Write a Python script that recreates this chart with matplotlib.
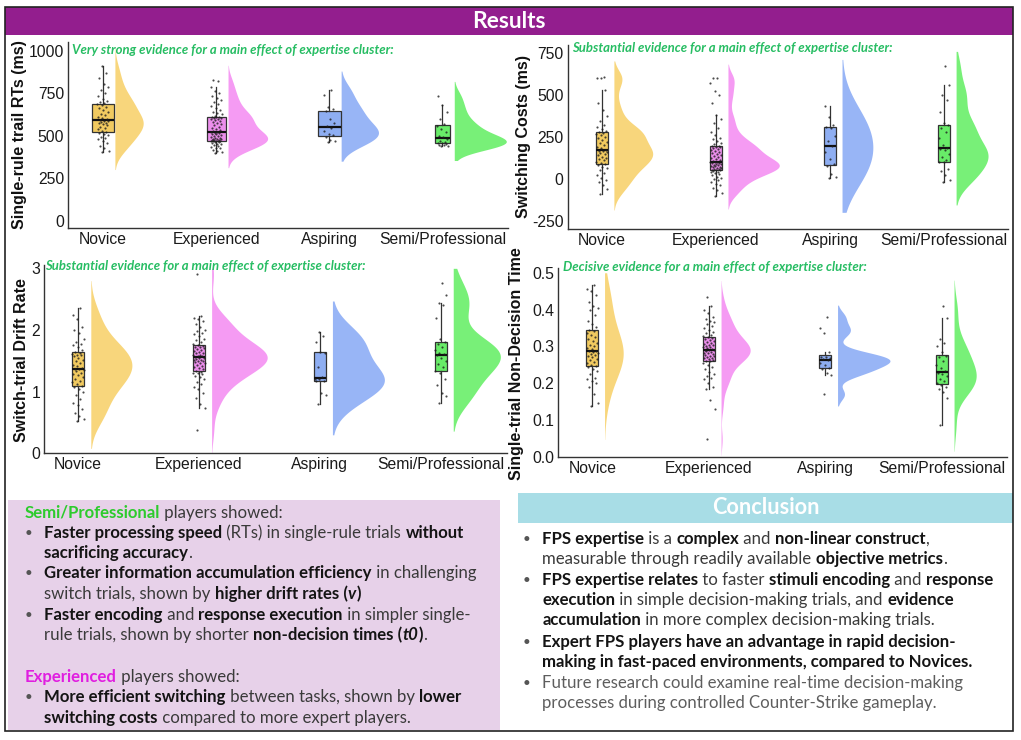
import numpy as np
import matplotlib
matplotlib.use("Agg")
import matplotlib.pyplot as plt
from matplotlib.font_manager import FontProperties
from matplotlib.patches import Rectangle

W, H, DPI = 1021, 740, 100

categories = ["Novice", "Experienced", "Aspiring", "Semi/Professional"]

# ---- Panel 1: single-rule trial RTs (ms)
rt_novice = [405, 412, 425, 440, 455, 468, 478, 486, 494, 502, 510, 518, 522, 530, 538, 546, 553, 560, 566, 572,
             577, 582, 586, 589, 592, 598, 605, 612, 620, 630, 640, 650, 660, 670, 680, 688, 692, 698, 705, 718,
             735, 752, 768, 785, 805, 840, 868, 910]
rt_experienced = [400, 405, 410, 418, 425, 430, 436, 441, 446, 450, 454, 458, 461, 464, 466, 468, 469, 470, 471, 472,
                  474, 476, 478, 480, 483, 486, 489, 492, 496, 500, 504, 508, 512, 515, 518, 520, 521, 526, 532, 538,
                  545, 552, 560, 567, 574, 580, 586, 591, 596, 600, 603, 606, 608, 610, 612, 618, 625, 633, 642, 652,
                  662, 672, 684, 696, 708, 720, 735, 750, 765, 785, 822, 826]
rt_aspiring = [460, 466, 472, 490, 502, 512, 530, 545, 555, 575, 600, 645, 655, 668, 740, 770]
rt_semipro = [438, 440, 443, 447, 452, 456, 458, 462, 470, 480, 490, 500, 520, 540, 558, 568, 600, 640, 680, 735]

# ---- Panel 2: switching costs (ms)
sc_novice = [-90, -60, -40, -20, -5, 5, 20, 35, 50, 62, 72, 82, 88, 95, 102, 110, 118, 125, 132, 140, 148, 155, 160,
             164, 166, 172, 180, 190, 200, 210, 220, 230, 240, 250, 260, 268, 274, 278, 285, 295, 305, 320, 345, 375,
             410, 450, 530, 598, 602, 605]
sc_experienced = [-100, -85, -70, -55, -40, -30, -20, -10, -2, 5, 12, 20, 26, 32, 38, 42, 46, 49, 51, 54, 57, 60, 63,
                  66, 69, 72, 75, 78, 81, 84, 87, 90, 93, 96, 98, 100, 101, 106, 111, 116, 121, 127, 133, 139, 145,
                  151, 157, 163, 169, 175, 181, 187, 191, 194, 197, 205, 215, 225, 235, 245, 260, 280, 300, 330, 355,
                  380, 450, 500, 525, 570, 598, 602]
sc_aspiring = [2, 12, 30, 75, 85, 120, 160, 195, 225, 255, 300, 310, 318, 370, 430]
sc_semipro = [-20, -10, 20, 45, 60, 98, 102, 110, 130, 150, 170, 178, 182, 200, 240, 280, 300, 320, 330, 400, 470,
              500, 555, 670]

# ---- Panel 3: switch-trial drift rate
drift_novice = [0.52, 0.55, 0.60, 0.65, 0.72, 0.78, 0.82, 0.88, 0.95, 1.00, 1.04, 1.07, 1.09, 1.12, 1.15, 1.18, 1.21,
                1.24, 1.27, 1.29, 1.31, 1.33, 1.35, 1.36, 1.37, 1.38, 1.41, 1.44, 1.47, 1.50, 1.52, 1.55, 1.57, 1.59,
                1.60, 1.61, 1.62, 1.64, 1.68, 1.72, 1.75, 1.78, 1.80, 1.85, 1.95, 2.00, 2.05, 2.18, 2.25, 2.36]
drift_experienced = [0.37, 0.73, 0.80, 0.90, 0.98, 1.05, 1.08, 1.12, 1.16, 1.20, 1.23, 1.26, 1.28, 1.30, 1.31, 1.32,
                     1.34, 1.36, 1.38, 1.40, 1.42, 1.44, 1.46, 1.47, 1.48, 1.49, 1.50, 1.51, 1.52, 1.53, 1.54, 1.55,
                     1.56, 1.57, 1.58, 1.59, 1.60, 1.62, 1.63, 1.65, 1.66, 1.68, 1.69, 1.70, 1.72, 1.73, 1.74, 1.75,
                     1.77, 1.80, 1.83, 1.86, 1.90, 1.93, 1.95, 1.98, 2.00, 2.05, 2.10, 2.14, 2.18, 2.20, 2.22, 2.90]
drift_aspiring = [0.80, 0.95, 0.98, 1.17, 1.18, 1.20, 1.21, 1.23, 1.40, 1.62, 1.65, 1.80, 1.90, 1.97]
drift_semipro = [0.82, 0.93, 0.97, 1.10, 1.20, 1.30, 1.34, 1.40, 1.45, 1.50, 1.55, 1.59, 1.61, 1.63, 1.68, 1.72, 1.77,
                 1.80, 1.85, 2.20, 2.40, 2.43, 2.57, 2.77]

# ---- Panel 4: single-trial non-decision time
ndt_novice = [0.137, 0.145, 0.170, 0.190, 0.200, 0.205, 0.210, 0.215, 0.225, 0.232, 0.238, 0.243, 0.246, 0.250,
              0.254, 0.258, 0.262, 0.266, 0.270, 0.274, 0.277, 0.280, 0.283, 0.285, 0.287, 0.288, 0.292, 0.296,
              0.300, 0.305, 0.310, 0.315, 0.320, 0.326, 0.332, 0.337, 0.341, 0.345, 0.352, 0.360, 0.370, 0.385,
              0.398, 0.405, 0.410, 0.420, 0.440, 0.450, 0.455, 0.468]
ndt_experienced = [0.048, 0.130, 0.155, 0.185, 0.190, 0.200, 0.210, 0.215, 0.220, 0.225, 0.230, 0.238, 0.245, 0.250,
                   0.255, 0.259, 0.261, 0.263, 0.265, 0.267, 0.269, 0.271, 0.273, 0.275, 0.277, 0.279, 0.281, 0.283,
                   0.285, 0.287, 0.289, 0.290, 0.291, 0.293, 0.295, 0.297, 0.299, 0.301, 0.303, 0.305, 0.307, 0.309,
                   0.311, 0.314, 0.317, 0.320, 0.323, 0.326, 0.328, 0.332, 0.336, 0.340, 0.345, 0.350, 0.355, 0.360,
                   0.365, 0.370, 0.375, 0.380, 0.390, 0.400, 0.410, 0.435]
ndt_aspiring = [0.170, 0.222, 0.228, 0.238, 0.242, 0.250, 0.256, 0.262, 0.265, 0.268, 0.270, 0.272, 0.285, 0.335,
                0.350, 0.380]
ndt_semipro = [0.085, 0.160, 0.175, 0.185, 0.190, 0.195, 0.200, 0.205, 0.210, 0.220, 0.225, 0.228, 0.232, 0.240,
               0.250, 0.260, 0.270, 0.275, 0.285, 0.300, 0.310, 0.320, 0.378, 0.410]

panel_ylabels = ["Single-rule trail RTs (ms)", "Switching Costs (ms)", "Switch-trial Drift Rate",
                 "Single-trial Non-Decision Time"]
panel_notes = ["Very strong evidence for a main effect of expertise cluster:",
               "Substantial evidence for a main effect of expertise cluster:",
               "Substantial evidence for a main effect of expertise cluster:",
               "Decisive evidence for a main effect of expertise cluster:"]
yticks_1 = [0, 250, 500, 750, 1000]
yticks_2 = [-250, 0, 250, 500, 750]
yticks_3 = [0, 1, 2, 3]
yticks_4 = [0.0, 0.1, 0.2, 0.3, 0.4, 0.5]

# ---------------- styles / layout ----------------
violin_colors = ["#F8D67C", "#F59BF3", "#98B5F6", "#78F078"]
box_colors = ["#F1CA60", "#EC8FEC", "#8EAEF2", "#68EC68"]
note_green = "#27BD63"
CUT = 2.0

panels = [
    dict(rect=(68.3, 42, 508, 228.3), xlim=(0.693, 4.58), ylim=(-44.7, 1051),
         data=[rt_novice, rt_experienced, rt_aspiring, rt_semipro],
         yticks=yticks_1, yfmt="{:.0f}", ylab_xy=(20, 135), note_xy=(72, 50),
         bw=[52, 44, 55, 42], vw=[0.25, 0.35, 0.33, 0.46], bxw=[0.2, 0.17, 0.2, 0.13], clip=None),
    dict(rect=(567.7, 45, 1008, 229.3), xlim=(0.70, 4.56), ylim=(-301, 796),
         data=[sc_novice, sc_experienced, sc_aspiring, sc_semipro],
         yticks=yticks_2, yfmt="{:.0f}", ylab_xy=(523, 136), note_xy=(571.7, 48.3),
         bw=[48, 40, 140, 68], vw=[0.34, 0.45, 0.27, 0.28], bxw=[0.1] * 4, clip=(-200, 758)),
    dict(rect=(44.3, 265, 507, 453.3), xlim=(0.72, 4.55), ylim=(0.0, 3.054),
         data=[drift_novice, drift_experienced, drift_aspiring, drift_semipro],
         yticks=yticks_3, yfmt="{:.0f}", ylab_xy=(21.7, 360), note_xy=(45, 266),
         bw=[0.22, 0.18, 0.25, 0.23], vw=[0.34, 0.46, 0.43, 0.39], bxw=[0.1] * 4, clip=(0.0, 3.0)),
    dict(rect=(558.3, 268, 1006.7, 456.7), xlim=(0.708, 4.557), ylim=(0.0, 0.513),
         data=[ndt_novice, ndt_experienced, ndt_aspiring, ndt_semipro],
         yticks=yticks_4, yfmt="{:.1f}", ylab_xy=(517, 364), note_xy=(563.3, 267.3),
         bw=[0.045, 0.022, 0.016, 0.035], vw=[0.16, 0.25, 0.45, 0.19], bxw=[0.1] * 4, clip=(0.0, 0.5)),
]

fig = plt.figure(figsize=(W / DPI, H / DPI), dpi=DPI)
fig.patch.set_facecolor("white")
renderer = fig.canvas.get_renderer()


def fx(x):
    return x / W


def fy(y):
    return 1 - y / H


def add_rect(x0, y0, x1, y1, **kw):
    r = Rectangle((fx(x0), fy(y1)), (x1 - x0) / W, (y1 - y0) / H, transform=fig.transFigure, **kw)
    fig.add_artist(r)
    return r


BODY = ["Lato", "DejaVu Sans"]


def fp(weight="normal", style="normal", size=11, family=None):
    return FontProperties(family=family or BODY, weight=weight, style=style, size=size)


_bar = {}


def measure(txt, prop):
    key = (prop.get_weight(), prop.get_style(), prop.get_size(), tuple(prop.get_family()))
    if key not in _bar:
        t = fig.text(0, 0, "||", fontproperties=prop)
        _bar[key] = t.get_window_extent(renderer).width
        t.remove()
    t = fig.text(0, 0, "|" + txt + "|", fontproperties=prop)
    w = t.get_window_extent(renderer).width
    t.remove()
    return w - _bar[key]


STY = {"r": ("normal", "normal"), "b": ("bold", "normal"), "bi": ("bold", "italic"), "i": ("normal", "italic")}
COL = {"r": "#3a3a3a", "b": "#141414", "g": "#2DCB2D", "m": "#E01EE0", "gr": "#5e5e5e"}


def runs_width(runs, size):
    return sum(measure(t, fp(*STY[s], size=size)) for t, s, c in runs)


def draw_runs(x, y, runs, size):
    for t, s, c in runs:
        prop = fp(*STY[s], size=size)
        fig.text(fx(x), fy(y), t, fontproperties=prop, color=COL[c], ha="left", va="center")
        x += measure(t, prop)


# ---------------- background boxes ----------------
add_rect(8, 500, 500, 729.5, facecolor="#E7D1E9", edgecolor="none", zorder=0)
add_rect(518, 493, 1013, 523, facecolor="#A8DDE6", edgecolor="none", zorder=0)
add_rect(5, 7, 1013, 35, facecolor="#931E8E", edgecolor="none", zorder=0)
add_rect(5, 7, 1013, 731, facecolor="none", edgecolor="#222222", lw=1.2, zorder=5)

# titles
tprop = fp("bold", size=10)
s_res = 10 * 74 / measure("Results", tprop)
fig.text(fx(509), fy(21), "Results", fontproperties=fp("bold", size=s_res), color="white", ha="center", va="center")
s_con = 10 * 107 / measure("Conclusion", tprop)
fig.text(fx(766), fy(508), "Conclusion", fontproperties=fp("bold", size=s_con), color="white", ha="center",
         va="center")

# ---------------- panels ----------------
tick_fp = FontProperties(family=["Liberation Sans", "DejaVu Sans"], size=11.3)
ylab_fp = FontProperties(family=["Liberation Sans", "DejaVu Sans"], weight="bold", size=11.5)
note_size = 10 * 320 / measure(panel_notes[0], fp("bold", "italic", size=10))
voff = 0.105
jit_half = 0.05
pos = np.arange(1, len(categories) + 1)

for k, P in enumerate(panels):
    x0, y0, x1, y1 = P["rect"]
    ax = fig.add_axes([fx(x0), fy(y1), (x1 - x0) / W, (y1 - y0) / H])
    ax.set_facecolor("none")
    for s in ["top", "right"]:
        ax.spines[s].set_visible(False)
    for s in ["left", "bottom"]:
        ax.spines[s].set_color("#333333")
        ax.spines[s].set_linewidth(1.0)
    for i, vals in enumerate(P["data"]):
        v = np.asarray(vals, float)
        bw = P["bw"][i]
        lo, hi = v.min() - CUT * bw, v.max() + CUT * bw
        if P["clip"] is not None:
            lo, hi = max(lo, P["clip"][0]), min(hi, P["clip"][1])
        g = np.linspace(lo, hi, 500)
        d = np.exp(-0.5 * ((g[:, None] - v[None, :]) / bw) ** 2).sum(1)
        d = d / d.max() * P["vw"][i]
        ax.fill_betweenx(g, pos[i] + voff, pos[i] + voff + d, color=violin_colors[i], lw=0, zorder=1)
    bp = ax.boxplot(P["data"], positions=pos, widths=P["bxw"], patch_artist=True, showfliers=False,
                    showcaps=False, whis=1.5, manage_ticks=False,
                    medianprops=dict(color="#111111", lw=1.6),
                    boxprops=dict(edgecolor="#333333", lw=0.9),
                    whiskerprops=dict(color="#333333", lw=0.9), zorder=2)
    for patch, c in zip(bp["boxes"], box_colors):
        patch.set_facecolor(c)
    for i, vals in enumerate(P["data"]):
        n = len(vals)
        jit = ((np.arange(n) * 0.6180339887 + 0.37) % 1.0 - 0.5) * 2 * jit_half
        ax.scatter(pos[i] + jit, vals, s=2.4, color="#1e1e1e", alpha=0.8, lw=0, zorder=3)
    ax.set_xlim(*P["xlim"])
    ax.set_ylim(*P["ylim"])
    ax.set_xticks(pos)
    ax.set_xticklabels(categories, fontproperties=tick_fp)
    ax.set_yticks(P["yticks"])
    ax.set_yticklabels([P["yfmt"].format(t) for t in P["yticks"]], fontproperties=tick_fp)
    ax.tick_params(length=0, pad=3, colors="#1a1a1a")
    cx, cy = P["ylab_xy"]
    fig.text(fx(cx), fy(cy), panel_ylabels[k], fontproperties=ylab_fp, rotation=90, ha="center", va="center",
             color="#111111")
    nx, ny = P["note_xy"]
    fig.text(fx(nx), fy(ny), panel_notes[k], fontproperties=fp("bold", "italic", size=note_size), color=note_green,
             ha="left", va="center", zorder=6)

# ---------------- text boxes ----------------
left_lines = [
    (512.7, False, [("Semi/Professional", "b", "g"), (" players showed:", "r", "r")]),
    (532.7, True, [("Faster processing speed", "b", "b"), (" (RTs) in single-rule trials ", "r", "r"),
                   ("without", "b", "b")]),
    (552.7, False, [("sacrificing accuracy", "b", "b"), (".", "r", "r")]),
    (573.3, True, [("Greater information accumulation efficiency", "b", "b"), (" in challenging", "r", "r")]),
    (594.0, False, [("switch trials, shown by ", "r", "r"), ("higher drift rates (", "b", "b"), ("v", "bi", "b"),
                    (")", "b", "b")]),
    (614.7, True, [("Faster encoding", "b", "b"), (" and ", "r", "r"), ("response execution", "b", "b"),
                   (" in simpler single-", "r", "r")]),
    (635.3, False, [("rule trials, shown by shorter ", "r", "r"), ("non-decision times (", "b", "b"),
                    ("t0", "bi", "b"), (")", "b", "b"), (".", "r", "r")]),
    (676.7, False, [("Experienced", "b", "m"), (" players showed:", "r", "r")]),
    (697.3, True, [("More efficient switching", "b", "b"), (" between tasks, shown by ", "r", "r"),
                   ("lower", "b", "b")]),
    (718.0, False, [("switching costs", "b", "b"), (" compared to more expert players.", "r", "r")]),
]
right_lines = [
    (539.0, True, [("FPS expertise", "b", "b"), (" is a ", "r", "r"), ("complex", "b", "b"), (" and ", "r", "r"),
                   ("non-linear construct", "b", "b"), (",", "r", "r")]),
    (559.3, False, [("measurable through readily available ", "r", "r"), ("objective metrics", "b", "b"),
                    (".", "r", "r")]),
    (580.0, True, [("FPS expertise relates", "b", "b"), (" to faster ", "r", "r"), ("stimuli encoding", "b", "b"),
                   (" and ", "r", "r"), ("response", "b", "b")]),
    (600.0, False, [("execution", "b", "b"), (" in simple decision-making trials, and ", "r", "r"),
                    ("evidence", "b", "b")]),
    (620.0, False, [("accumulation", "b", "b"), (" in more complex decision-making trials.", "r", "r")]),
    (641.7, True, [("Expert FPS players have an advantage in rapid decision-", "b", "b")]),
    (662.0, False, [("making in fast-paced environments, compared to Novices.", "b", "b")]),
    (682.7, True, [("Future research could examine real-time decision-making", "r", "gr")]),
    (703.3, False, [("processes during controlled Counter-Strike gameplay.", "r", "gr")]),
]

size_left = 10 * 422 / runs_width(left_lines[1][2], 10)
size_right = 10 * 455 / runs_width(right_lines[2][2], 10)

for y, bullet, runs in left_lines:
    if bullet:
        fig.text(fx(28.5), fy(y), "\u2022", fontproperties=fp(size=size_left * 0.8), color="#555555",
                 ha="center", va="center")
        draw_runs(44.3, y, runs, size_left)
    else:
        x = 25 if runs[0][2] in ("g", "m") else 44.3
        draw_runs(x, y, runs, size_left)

for y, bullet, runs in right_lines:
    if bullet:
        fig.text(fx(526.5), fy(y), "\u2022", fontproperties=fp(size=size_right * 0.8), color="#555555",
                 ha="center", va="center")
    draw_runs(542.3, y, runs, size_right)

fig.savefig("out.png", dpi=DPI, facecolor="white")
